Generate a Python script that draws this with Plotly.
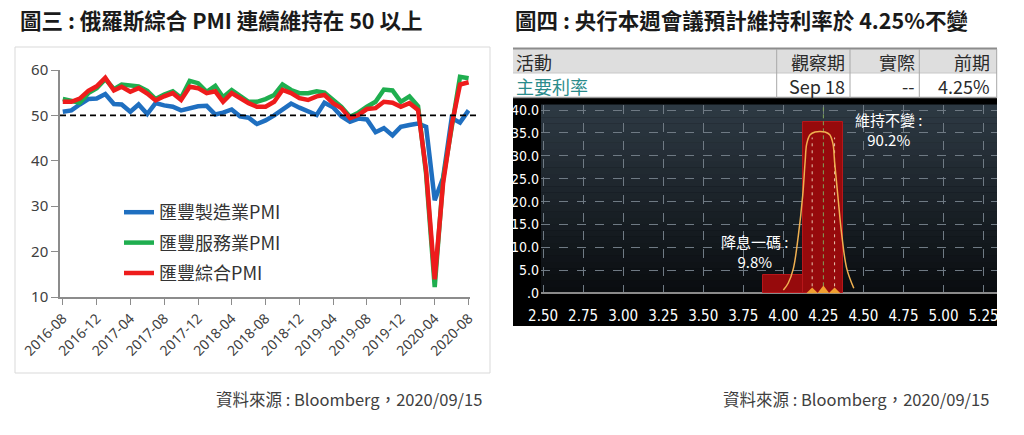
import pandas as pd
import plotly.graph_objects as go

W, H = 1024, 435

# ---- 圖三：俄羅斯 PMI (2016-08 ~ 2020-08) ----
months = pd.date_range("2016-08-01", "2020-08-01", freq="MS")
mfg_pmi = [50.8, 51.1, 52.4, 53.6, 53.7,
           54.7, 52.5, 52.4, 50.8, 52.4, 50.3, 52.7, 52.2, 51.9, 51.1, 51.5, 52.0,
           52.1, 50.2, 50.6, 51.3, 49.8, 49.5, 48.1, 48.9, 50.0, 51.3, 52.6, 51.7,
           50.9, 50.1, 52.8, 51.8, 49.8, 48.6, 49.3, 49.1, 46.3, 47.2, 45.6, 47.5,
           47.9, 48.2, 47.5, 31.3, 36.2, 49.4, 48.4, 51.1]
svc_pmi = [53.6, 53.1, 52.8, 54.9, 56.0,
           58.0, 55.8, 56.8, 56.5, 56.4, 55.4, 53.6, 54.6, 55.3, 53.9, 57.6, 57.1,
           55.2, 56.5, 54.0, 55.6, 54.2, 53.0, 53.0, 53.6, 54.5, 56.8, 55.6, 54.9,
           54.9, 55.3, 55.0, 53.4, 51.9, 49.7, 50.6, 51.9, 53.0, 55.7, 55.5, 53.0,
           54.2, 52.0, 37.1, 12.2, 35.9, 47.3, 58.5, 58.2]
comp_pmi = [53.0, 53.0, 53.7, 55.4, 56.4,
            58.3, 55.5, 56.3, 55.2, 56.0, 54.8, 53.3, 54.2, 54.9, 53.4, 56.3, 56.0,
            54.9, 55.3, 53.0, 54.9, 53.8, 52.7, 51.9, 51.9, 53.0, 55.6, 54.9, 53.8,
            53.4, 54.2, 54.5, 52.7, 51.6, 49.4, 50.1, 51.4, 51.6, 53.0, 52.8, 51.9,
            52.7, 51.2, 37.8, 13.9, 35.0, 47.8, 56.8, 57.3]
pmi_series = [
    ("匯豐製造業PMI", mfg_pmi, "#1f6fc0"),
    ("匯豐服務業PMI", svc_pmi, "#1fae4f"),
    ("匯豐綜合PMI", comp_pmi, "#ee1c1c"),
]

# ---- 圖四：央行利率機率 ----
rate_bins = [4.00, 4.25]
rate_bar = [4.1, 37.3]
curve_x = [4.00, 4.03, 4.0625, 4.094, 4.121, 4.136, 4.146, 4.167, 4.198, 4.229,
           4.26, 4.29, 4.31, 4.32, 4.34, 4.365, 4.396, 4.44]
curve_y = [0.7, 2.2, 5.4, 12.7, 21.4, 28.7, 32.6, 34.6, 35.2, 35.3,
           35.2, 34.6, 32.6, 28.7, 21.4, 12.7, 5.4, 1.1]
band_x = [4.18, 4.32]
band_top = 34.0
center_x = 4.25
table_head = ["活動", "觀察期", "實際", "前期"]
table_row = ["主要利率", "Sep 18", "--", "4.25%"]

# page body adds an 8px margin, so positions from the picture are shifted back
OFF = 8


def px(x):
    return (x - OFF) / W


def py(y):
    return 1 - (y - OFF) / H


CJK = "Noto Sans CJK TC, Noto Sans, sans-serif"
NARROW = "DejaVu Sans Condensed, Liberation Sans Narrow, Roboto, sans-serif"

fig = go.Figure()

for name, vals, color in pmi_series:
    fig.add_trace(go.Scatter(
        x=months, y=vals, name=name, mode="lines", legendgroup=name,
        line=dict(color=color, width=4.5), xaxis="x", yaxis="y",
    ))

# right chart traces
fig.add_trace(go.Bar(
    x=rate_bins, y=rate_bar, width=0.25, xaxis="x2", yaxis="y2", showlegend=False,
    marker=dict(color="#960a0c", line=dict(color="#b8161a", width=1)),
))
fig.add_trace(go.Scatter(
    x=[center_x, center_x], y=[0, 41.1], mode="lines", xaxis="x2", yaxis="y2",
    showlegend=False, line=dict(color="#7fa35a", width=1, dash="4px,3px"),
))
for bx in band_x:
    fig.add_trace(go.Scatter(
        x=[bx, bx], y=[0, band_top], mode="lines", xaxis="x2", yaxis="y2",
        showlegend=False, line=dict(color="#e8c8b0", width=1, dash="3px,4px"),
    ))
fig.add_trace(go.Scatter(
    x=curve_x, y=curve_y, mode="lines", xaxis="x2", yaxis="y2", showlegend=False,
    line=dict(color="#f0b050", width=1.5, shape="spline"),
))
fig.add_trace(go.Scatter(
    x=band_x, y=[0, 0], mode="markers", xaxis="x2", yaxis="y2", showlegend=False,
    marker=dict(symbol="diamond", size=9, color="#f0a030"),
))
fig.add_trace(go.Scatter(
    x=[center_x], y=[0.6], mode="markers", xaxis="x2", yaxis="y2", showlegend=False,
    marker=dict(symbol="triangle-up", size=10, color="#f0a030"),
))

shapes = [
    # left frame
    dict(type="rect", xref="paper", yref="paper", x0=px(15), x1=px(490),
         y0=py(373), y1=py(47), line=dict(color="#d9d9d9", width=1), layer="below"),
    # 50 line
    dict(type="line", xref="paper", yref="y", x0=px(60), x1=px(479), y0=50, y1=50,
         line=dict(color="black", width=1.6, dash="6px,4px")),
    # right: black chart frame
    dict(type="rect", xref="paper", yref="paper", x0=px(513), x1=px(997),
         y0=py(326), y1=py(98), fillcolor="#000000", line=dict(width=0), layer="below"),
    # table rows
    dict(type="rect", xref="paper", yref="paper", x0=px(513), x1=px(997),
         y0=py(73), y1=py(49), fillcolor="#dedede", line=dict(width=0), layer="below"),
    dict(type="line", xref="paper", yref="paper", x0=px(513), x1=px(997),
         y0=py(48.5), y1=py(48.5), line=dict(color="#8c8c8c", width=2)),
    dict(type="line", xref="paper", yref="paper", x0=px(513), x1=px(997),
         y0=py(73), y1=py(73), line=dict(color="#c8c8c8", width=1)),
    dict(type="line", xref="paper", yref="paper", x0=px(513), x1=px(997),
         y0=py(97.5), y1=py(97.5), line=dict(color="#9a9a9a", width=1.5)),
]
for cx in [776.7, 850, 919.3, 996.7]:
    shapes.append(dict(type="line", xref="paper", yref="paper", x0=px(cx), x1=px(cx),
                       y0=py(98), y1=py(49), line=dict(color="#a8a8a8", width=1)))

# gradient background for the right plot area
n_bands = 30
top_rgb, bot_rgb = (46, 58, 68), (9, 12, 15)
for k in range(n_bands):
    t = (k + 0.5) / n_bands
    c = tuple(round(bot_rgb[i] + (top_rgb[i] - bot_rgb[i]) * t) for i in range(3))
    shapes.append(dict(type="rect", xref="x2 domain", yref="y2 domain",
                       x0=0, x1=1, y0=k / n_bands, y1=(k + 1) / n_bands + 0.002,
                       fillcolor="rgb(%d,%d,%d)" % c, line=dict(width=0), layer="below"))

annotations = [
    dict(text="<b>圖三 : 俄羅斯綜合 PMI 連續維持在 50 以上</b>", x=px(19), y=py(19),
         xref="paper", yref="paper", xanchor="left", yanchor="middle", showarrow=False,
         borderpad=0, font=dict(family=CJK, size=21.5, color="#1a1a1a")),
    dict(text="<b>圖四 : 央行本週會議預計維持利率於 4.25%不變</b>", x=px(514), y=py(19),
         xref="paper", yref="paper", xanchor="left", yanchor="middle", showarrow=False,
         borderpad=0, font=dict(family=CJK, size=21.5, color="#1a1a1a")),
    dict(text="資料來源 : Bloomberg，2020/09/15", x=px(484), y=py(399),
         xref="paper", yref="paper", xanchor="right", yanchor="middle", showarrow=False,
         font=dict(family=CJK, size=16.5, color="#404040")),
    dict(text="資料來源 : Bloomberg，2020/09/15", x=px(991), y=py(399),
         xref="paper", yref="paper", xanchor="right", yanchor="middle", showarrow=False,
         font=dict(family=CJK, size=16.5, color="#404040")),
    dict(text="維持不變 :<br>90.2%", x=4.66, y=35.8, xref="x2", yref="y2", showarrow=False,
         font=dict(family=CJK, size=15, color="white")),
    dict(text="降息一碼 :<br>9.8%", x=3.82, y=9.1, xref="x2", yref="y2", showarrow=False,
         font=dict(family=CJK, size=15, color="white")),
]

# table text
head_right = [None, 847, 917, 992]
for i, (h, r) in enumerate(zip(table_head, table_row)):
    if i == 0:
        xa, anchor = px(514), "left"
    else:
        xa, anchor = px(head_right[i]), "right"
    annotations.append(dict(text=h, x=xa, y=py(61.5), xref="paper", yref="paper",
                            xanchor=anchor, yanchor="middle", showarrow=False,
                            font=dict(family=CJK, size=18, color="#2a2a2a")))
    annotations.append(dict(text=r, x=xa, y=py(86), xref="paper", yref="paper",
                            xanchor=anchor, yanchor="middle", showarrow=False,
                            font=dict(family=CJK, size=18,
                                      color="#2b8c8c" if i == 0 else "#2a2a2a")))

fig.update_layout(
    width=W, height=H,
    margin=dict(l=0, r=0, t=0, b=0, autoexpand=False),
    paper_bgcolor="white", plot_bgcolor="rgba(0,0,0,0)",
    showlegend=True,
    legend=dict(x=px(119), y=py(194), xanchor="left", yanchor="top",
                bgcolor="rgba(0,0,0,0)", tracegroupgap=4,
                font=dict(family=CJK, size=18, color="#333333")),
    xaxis=dict(domain=[px(60), px(470)], range=["2016-07-22", "2020-08-06"],
               type="date", tick0="2016-08-01", dtick="M4", tickformat="%Y-%m",
               tickangle=-45, showgrid=False, zeroline=False, showline=True,
               linecolor="#8c8c8c", linewidth=1.5, ticks="outside", ticklen=6,
               tickcolor="#8c8c8c", anchor="y", automargin=False,
               tickfont=dict(family="Noto Sans, sans-serif", size=14, color="#404040")),
    yaxis=dict(domain=[py(297), py(70)], range=[10, 60], dtick=10, showgrid=False,
               zeroline=False, showline=True, linecolor="#8c8c8c", linewidth=1.5,
               ticks="outside", ticklen=7, tickcolor="#8c8c8c", anchor="x",
               automargin=False,
               tickfont=dict(family="Noto Sans, sans-serif", size=15, color="#404040")),
    xaxis2=dict(domain=[px(541), px(997)], range=[2.487, 5.334], dtick=0.25,
                tick0=2.5, tickformat=".2f", showgrid=True, griddash="dash",
                gridcolor="#6f7a84", gridwidth=1, zeroline=False, showline=False,
                ticks="", ticklabelstandoff=12, anchor="y2", automargin=False,
                tickfont=dict(family=NARROW, size=15, color="white")),
    yaxis2=dict(domain=[py(293.3), py(105)], range=[0, 41.1],
                tickvals=[0, 5, 10, 15, 20, 25, 30, 35, 40],
                ticktext=[".0", "5.0", "10.0", "15.0", "20.0", "25.0", "30.0", "35.0", "40.0"],
                showgrid=True, griddash="dash", gridcolor="#6f7a84", gridwidth=1,
                zeroline=True, zerolinecolor="#8a8a8a", zerolinewidth=1.5,
                ticks="", ticklabelstandoff=1, anchor="x2", automargin=False,
                tickfont=dict(family=NARROW, size=14, color="white")),
    shapes=shapes,
    annotations=annotations,
    bargap=0,
)

fig.write_html("out.html")
